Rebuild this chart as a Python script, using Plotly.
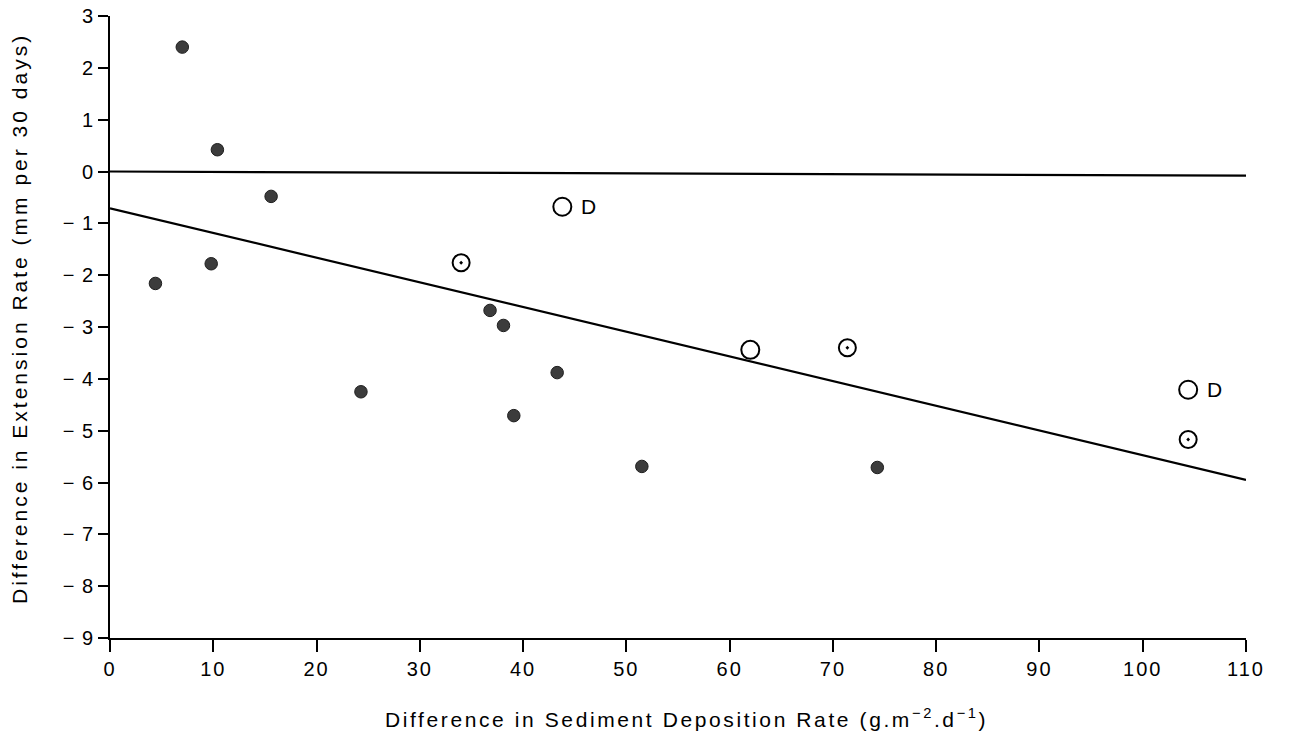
import plotly.graph_objects as go

# Filled points
filled_x = [7.0, 10.4, 15.6, 9.8, 4.4, 24.3, 36.8, 38.1, 39.1, 43.3, 51.5, 74.3]
filled_y = [2.40, 0.42, -0.48, -1.78, -2.16, -4.25, -2.68, -2.97, -4.71, -3.88, -5.69, -5.71]

# Open circles with central dot
dot_x = [34.0, 71.4, 104.4]
dot_y = [-1.76, -3.40, -5.17]

# Open circles
open_x = [62.0, 43.8, 104.4]
open_y = [-3.44, -0.68, -4.21]
open_label = ["", "D", "D"]

# Regression line and zero reference line
reg_x = [0, 110]
reg_y = [-0.71, -5.95]
zero_x = [0, 110]
zero_y = [0.0, -0.08]

x_ticks = list(range(0, 111, 10))
y_ticks = list(range(-9, 4))

X_TITLE = "Difference in Sediment Deposition Rate (g.m<sup>−2</sup>.d<sup>−1</sup>)"
Y_TITLE = "Difference in Extension Rate (mm per 30 days)"

FONT = "Liberation Sans"


def spaced(s, px):
    return '<span style="letter-spacing:%spx">%s</span>' % (px, s)


x_ticktext = [spaced(str(v), 2) for v in x_ticks]
y_ticktext = [spaced(("− " + str(-v)) if v < 0 else str(v), 1) for v in y_ticks]

L, R, T, B = 110, 43, 16, 100
W, H = 1289, 738
pw = W - L - R
ph = H - T - B


def px_x(px):
    return (px - L) / pw


def px_y(py):
    return (H - B - py) / ph


fig = go.Figure()
fig.add_trace(go.Scatter(x=zero_x, y=zero_y, mode="lines",
                         line=dict(color="black", width=2.2), hoverinfo="skip"))
fig.add_trace(go.Scatter(x=reg_x, y=reg_y, mode="lines",
                         line=dict(color="black", width=2.2), hoverinfo="skip"))
fig.add_trace(go.Scatter(x=filled_x, y=filled_y, mode="markers",
                         marker=dict(symbol="circle", size=12.5, color="#3c3c3c",
                                     line=dict(color="#1e1e1e", width=1))))
fig.add_trace(go.Scatter(x=dot_x, y=dot_y, mode="markers",
                         marker=dict(symbol="circle-open-dot", size=17, color="black",
                                     line=dict(color="black", width=2))))
fig.add_trace(go.Scatter(x=open_x, y=open_y, mode="markers",
                         marker=dict(symbol="circle-open", size=18, color="black",
                                     line=dict(color="black", width=2))))

annotations = [
    dict(text=spaced(X_TITLE, 2.6),
         x=px_x(686), y=px_y(718), xref="paper", yref="paper",
         xanchor="center", yanchor="middle", showarrow=False,
         font=dict(family=FONT, size=21, color="black")),
    dict(text=spaced(Y_TITLE, 3.0),
         x=px_x(19), y=px_y(319), xref="paper", yref="paper",
         xanchor="center", yanchor="middle", textangle=-90, showarrow=False,
         font=dict(family=FONT, size=21, color="black")),
]
for x, y, t in zip(open_x, open_y, open_label):
    if t:
        annotations.append(dict(text=t, x=x, y=y, xref="x", yref="y",
                                xanchor="left", yanchor="middle", xshift=17,
                                showarrow=False,
                                font=dict(family=FONT, size=21, color="black")))

fig.update_layout(
    width=W, height=H,
    margin=dict(l=L, r=R, t=T, b=B, autoexpand=False),
    paper_bgcolor="white", plot_bgcolor="white",
    showlegend=False,
    font=dict(family=FONT, size=20, color="black"),
    xaxis=dict(range=[0, 110], tickvals=x_ticks, ticktext=x_ticktext,
               showgrid=False, zeroline=False,
               showline=True, linecolor="black", linewidth=2, automargin=False,
               ticks="outside", ticklen=12, tickwidth=1.5, tickcolor="black",
               ticklabeloverflow="allow",
               tickfont=dict(family=FONT, size=20, color="black")),
    yaxis=dict(range=[-9, 3], tickvals=y_ticks, ticktext=y_ticktext,
               showgrid=False, zeroline=False, automargin=False,
               showline=True, linecolor="black", linewidth=2,
               ticks="outside", ticklen=10, tickwidth=1.5, tickcolor="black",
               ticklabeloverflow="allow",
               tickfont=dict(family=FONT, size=20, color="black")),
    annotations=annotations,
)

fig.write_html("out.html", config={"displayModeBar": False},
               post_script="document.body.style.margin='0';document.body.style.overflow='hidden';")
